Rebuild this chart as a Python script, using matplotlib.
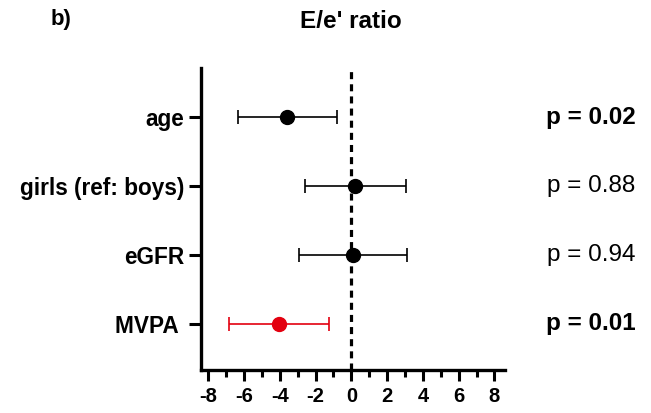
import matplotlib
matplotlib.use("Agg")
import matplotlib.pyplot as plt
from matplotlib.ticker import MultipleLocator

plt.rcParams['font.family'] = ['Liberation Sans', 'DejaVu Sans']
plt.rcParams['axes.unicode_minus'] = False

labels = ["age", "girls (ref: boys)", "eGFR", "MVPA "]
est = [-3.62, 0.2, 0.08, -4.06]
lo = [-6.32, -2.61, -2.95, -6.83]
hi = [-0.83, 3.06, 3.12, -1.26]
pvals = ["p = 0.02", "p = 0.88", "p = 0.94", "p = 0.01"]
pbold = [True, False, False, True]
colors = ["black", "black", "black", "#e3000f"]

fig = plt.figure(figsize=(6.51, 4.13), dpi=100)
ax = fig.add_axes([0.309, 0.104, 0.467, 0.731])

n = len(labels)
ypos = [n - 1 - i for i in range(n)]
for i in range(n):
    ax.errorbar(est[i], ypos[i], xerr=[[est[i] - lo[i]], [hi[i] - est[i]]],
                fmt='o', color=colors[i], ecolor=colors[i], markersize=10,
                elinewidth=1.2, capsize=5, capthick=1.2, zorder=3)

ax.axvline(0, color='black', linestyle=(0, (2.2, 1.6)), linewidth=2.3, zorder=2)

ax.set_xlim(-8.4, 8.6)
ax.set_ylim(-0.67, n - 1 + 0.71)
ax.set_yticks(ypos)
ax.set_yticklabels(labels, fontsize=16.3, fontweight='bold')
ax.xaxis.set_major_locator(MultipleLocator(2))
ax.xaxis.set_minor_locator(MultipleLocator(1))
ax.tick_params(axis='x', which='major', length=8, width=2.2, labelsize=14.5, pad=4)
ax.tick_params(axis='x', which='minor', length=5, width=2.2)
ax.tick_params(axis='y', which='major', length=9, width=2.2, pad=3)
for lab in ax.get_xticklabels():
    lab.set_fontweight('bold')

for s in ['top', 'right']:
    ax.spines[s].set_visible(False)
for s in ['left', 'bottom']:
    ax.spines[s].set_linewidth(2.4)

for i in range(n):
    y_disp = ax.transData.transform((0, ypos[i]))[1]
    y_fig = fig.transFigure.inverted().transform((0, y_disp))[1]
    fig.text(0.976, y_fig, pvals[i], ha='right', va='center', fontsize=17.5,
             fontweight='bold' if pbold[i] else 'normal')

fig.text(0.539, 0.947, "E/e' ratio", ha='center', va='center', fontsize=17.5, fontweight='bold')
fig.text(0.077, 0.952, "b)", ha='left', va='center', fontsize=16, fontweight='bold')

fig.savefig("out.png", dpi=100)
